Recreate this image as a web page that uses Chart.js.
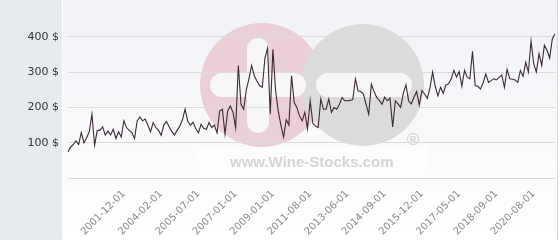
<!DOCTYPE html>
<html>
<head>
<meta charset="utf-8">
<script src="https://cdn.jsdelivr.net/npm/chart.js@4.4.0/dist/chart.umd.min.js"></script>
<style>
  body { margin: 0; background: #fff; }
  canvas { display: block; }
</style>
</head>
<body>
<canvas id="chart" width="560" height="240"></canvas>
<script>
// prices in $, one per sale
const prices = [
  74, 88, 95, 105, 95, 129, 100, 114, 131, 181, 93, 135, 135, 145, 122, 133, 122, 138, 112, 131,
  116, 162, 143, 135, 129, 112, 162, 173, 162,
  167, 150, 131, 157, 143, 135, 121, 150, 160, 145, 132, 122, 135,
  147, 165, 195, 161, 150, 158, 140, 128, 152, 140, 138, 157, 143, 150, 128, 190, 195, 124,
  190, 204, 186, 143, 319, 209, 195, 250, 281, 319, 290, 275, 262, 257, 340, 368, 181, 365,
  248, 190, 150, 116, 165, 150, 290, 214, 200, 176, 162, 186, 140, 219, 155, 147, 143, 224,
  195, 195, 224, 186, 200, 195, 209, 228, 219, 219, 220, 222, 281, 247, 245, 238, 209, 181,
  266, 245, 228, 220, 209,
  229, 219, 226, 145, 219, 210, 200, 240, 264, 218, 210, 229, 245, 207, 248, 238, 226, 255,
  300, 260, 233, 257, 240, 264, 267, 281, 305, 286, 302, 260, 305, 286, 281, 359, 262, 260,
  252, 270, 295, 271, 276, 281, 278, 285, 292, 257, 308, 281, 280, 278, 271, 305, 288, 328,
  300, 388, 324, 300, 352, 319, 376, 362, 340, 395, 409
];

// dates shown on the x axis
const tickLabels = [
  '2001-12-01', '2004-02-01', '2005-07-01', '2007-01-01', '2009-01-01', '2011-08-01',
  '2013-06-01', '2014-09-01', '2015-12-01', '2017-05-01', '2018-09-01', '2020-08-01'
];
const tickStart = 21;
const tickStep = 14;

const yTicks = [100, 200, 300, 400];

const labels = prices.map((p, i) => {
  const k = (i - tickStart) / tickStep;
  return Number.isInteger(k) && k >= 0 && k < tickLabels.length ? tickLabels[k] : '';
});

const background = {
  id: 'background',
  beforeDraw(chart) {
    const c = chart.ctx;
    c.save();
    c.fillStyle = '#ffffff';
    c.fillRect(0, 0, 560, 240);
    c.fillStyle = '#e8ebee';
    c.fillRect(0, 0, 62, 240);
    const g = c.createLinearGradient(0, 0, 0, 240);
    g.addColorStop(0, '#f1f2f6');
    g.addColorStop(1, '#ffffff');
    c.fillStyle = g;
    c.fillRect(63, 0, 495, 240);
    c.fillStyle = '#d6d6d6';
    c.fillRect(557, 0, 1, 240);

    // watermark
    c.fillStyle = '#eacfd7';
    c.beginPath(); c.arc(262, 85, 62, 0, Math.PI * 2); c.fill();
    c.fillStyle = '#dbdbdb';
    c.beginPath(); c.arc(363, 85, 61, 0, Math.PI * 2); c.fill();
    c.fillStyle = '#f7f7f9';
    c.beginPath(); c.roundRect(247, 38, 22, 95, 11); c.fill();
    c.beginPath(); c.roundRect(210, 73, 96, 24, 12); c.fill();
    c.beginPath(); c.roundRect(316, 73, 96, 24, 12); c.fill();
    c.fillStyle = 'rgba(255,255,255,0.6)';
    c.fillRect(198, 147, 229, 26);
    c.fillStyle = '#d4d4d4';
    c.font = 'bold 15px "Liberation Sans"';
    c.textBaseline = 'alphabetic';
    c.fillText('www.Wine-Stocks.com', 230, 167);
    c.font = 'bold 17px "Liberation Sans"';
    c.textAlign = 'center';
    c.textBaseline = 'middle';
    c.fillText('\u00ae', 413, 140);
    c.restore();
  }
};

new Chart(document.getElementById('chart'), {
  type: 'line',
  data: {
    labels: labels,
    datasets: [{
      data: prices,
      borderColor: '#3b2a33',
      borderWidth: 1.1,
      pointRadius: 0,
      tension: 0,
      fill: false
    }]
  },
  options: {
    responsive: false,
    animation: false,
    layout: { padding: { top: 27, right: 5, left: 0, bottom: 0 } },
    plugins: { legend: { display: false }, tooltip: { enabled: false } },
    scales: {
      x: {
        grid: { display: false, drawTicks: false },
        border: { display: false },
        ticks: {
          autoSkip: false,
          minRotation: 45,
          maxRotation: 45,
          padding: 10,
          color: '#8a8a8a',
          font: { family: 'DejaVu Sans', size: 10 },
          callback: (v, i) => labels[i] || null
        },
        afterFit: s => { s.height = 62; }
      },
      y: {
        min: 0,
        max: 428,
        grid: { color: '#dcdcdc', drawTicks: false },
        border: { display: false },
        afterBuildTicks: s => { s.ticks = [0].concat(yTicks).map(v => ({ value: v })); },
        ticks: {
          padding: 9,
          color: '#333',
          font: { family: 'DejaVu Sans', size: 11 },
          callback: v => v ? v + ' $' : ''
        },
        afterFit: s => { s.width = 68; }
      }
    }
  },
  plugins: [background]
});
</script>
</body>
</html>
